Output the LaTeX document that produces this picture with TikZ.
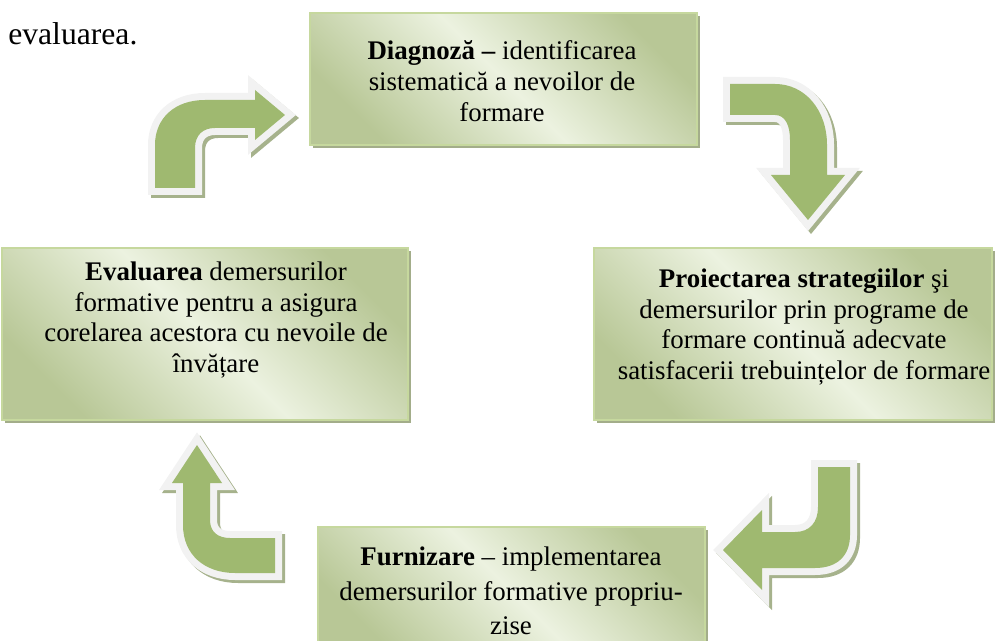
\documentclass[tikz,border=0pt]{standalone}
\usepackage{fontspec}
\setmainfont{Liberation Serif}
\usepackage{tikz}
\usetikzlibrary{positioning}

\definecolor{boxdark}{RGB}{184,199,150}
\definecolor{boxlight}{RGB}{236,242,224}
\definecolor{boxrim}{RGB}{198,216,158}
\definecolor{boxshade}{RGB}{163,173,138}
\definecolor{arrowgreen}{RGB}{159,185,112}
\definecolor{arrowrim}{RGB}{242,242,242}
\definecolor{arrowshade}{RGB}{166,178,140}

\newcommand{\stagefont}{\fontsize{15.3}{17.6}\selectfont}

\tikzset{
  stagebox/.style={draw=boxrim, line width=0.05cm, inner sep=0pt,
    top color=boxdark, bottom color=boxdark, middle color=boxlight, shading angle=-45,
    preaction={fill=boxshade, transform canvas={shift={(0.06cm,-0.06cm)}}}},
  stagetext/.style={align=center, inner sep=0pt, font=\stagefont},
  bentarrow/.style={fill=arrowgreen, line join=miter,
    preaction={draw=arrowshade, fill=arrowshade, line width=0.28cm, line join=miter,
      transform canvas={shift={(0.06cm,-0.06cm)}}},
    preaction={draw=arrowrim, line width=0.28cm, line join=miter}}
}

\begin{document}
\begin{tikzpicture}[x=0.02cm, y=-0.02cm]
\path[use as bounding box] (0,0) rectangle (996,641);
\clip (0,0) rectangle (996,641);

% text before the figure
\node[anchor=base west, inner sep=0pt, font=\fontsize{18}{21}\selectfont] (prev) at (8,45) {evaluarea.};

% Diagnoza
\node[stagebox, minimum width=7.74cm, minimum height=2.64cm] (diag) at (503.5,79) {};
\node[stagetext] (diagtext) at (502,81) {\textbf{Diagnoză –} identificarea\\ sistematică a nevoilor de\\ formare};

% Proiectarea
\node[stagebox, minimum width=7.96cm, minimum height=3.44cm] (proj) at (793,334) {};
\node[stagetext] (projtext) at (804,327) {\textbf{Proiectarea strategiilor} şi\\ demersurilor prin programe de\\ formare continuă adecvate\\ satisfacerii trebuințelor de formare};

% Furnizare
\node[stagebox, minimum width=7.74cm, minimum height=2.56cm] (furn) at (511.5,591) {};
\node[stagetext, font=\fontsize{15.3}{19.5}\selectfont] (furntext) at (511,591) {\textbf{Furnizare} – implementarea\\ demersurilor formative propriu-\\ zise};

% Evaluarea
\node[stagebox, minimum width=8.12cm, minimum height=3.44cm] (eval) at (205,334) {};
\node[stagetext] (evaltext) at (216,320) {\textbf{Evaluarea} demersurilor\\ formative pentru a asigura\\ corelarea acestora cu nevoile de\\ învățare};

% Arrows between the stages
\fill[bentarrow] (155,188) -- (155,145) .. controls (155,118) and (175,100) .. (205,100)
  -- (255,100) -- (255,90) -- (285,115) -- (255,140) -- (255,128) -- (215,128)
  .. controls (203,128) and (195,135) .. (195,148) -- (195,188) -- cycle;
\fill[bentarrow] (730,84) -- (775,84) .. controls (805,84) and (827,110) .. (827,145)
  -- (827,175) -- (845,175) -- (808,220) -- (771,175) -- (790,175) -- (790,140)
  .. controls (790,125) and (785,115) .. (775,115) -- (730,115) -- cycle;
\fill[bentarrow] (818,467) -- (850,467) -- (850,535) .. controls (850,555) and (838,568) .. (815,568)
  -- (762,568) -- (762,590) -- (723,550) -- (762,510) -- (762,532) -- (795,532)
  .. controls (810,532) and (818,522) .. (818,507) -- cycle;
\fill[bentarrow] (275,538) -- (275,573) -- (235,573) .. controls (205,573) and (183,555) .. (183,525)
  -- (183,483) -- (172,483) -- (197,445) -- (222,483) -- (210,483) -- (210,520)
  .. controls (210,532) and (218,538) .. (230,538) -- cycle;
\end{tikzpicture}
\end{document}
